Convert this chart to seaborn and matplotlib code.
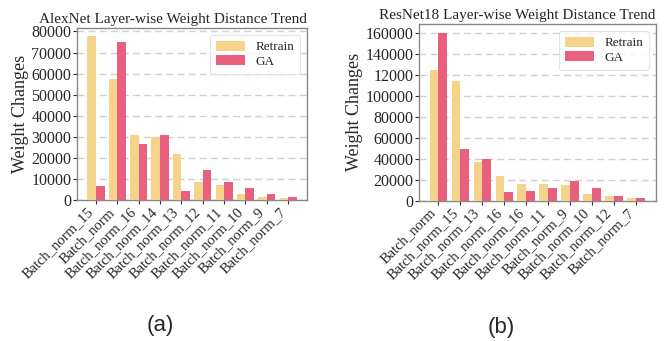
import matplotlib
matplotlib.use("Agg")
import matplotlib.pyplot as plt
import seaborn as sns
import pandas as pd

# ---- data ----
alex_labels = ["Batch_norm_15", "Batch_norm", "Batch_norm_16", "Batch_norm_14", "Batch_norm_13",
               "Batch_norm_12", "Batch_norm_11", "Batch_norm_10", "Batch_norm_9", "Batch_norm_7"]
alex_retrain = [77700, 57500, 30900, 30000, 21900, 8700, 7200, 2900, 1400, 1000]
alex_ga = [6800, 75100, 26600, 30900, 4300, 14300, 8600, 5700, 2900, 1400]

res_labels = ["Batch_norm", "Batch_norm_15", "Batch_norm_13", "Batch_norm_16", "Batch_norm_16",
              "Batch_norm_11", "Batch_norm_9", "Batch_norm_10", "Batch_norm_12", "Batch_norm_7"]
res_retrain = [124200, 113700, 36800, 23400, 15800, 15800, 14900, 6300, 4400, 2500]
res_ga = [160300, 49100, 39600, 8200, 9200, 12000, 18700, 12000, 4400, 2500]

alex_yticks = [0, 10000, 20000, 30000, 40000, 50000, 60000, 70000, 80000]
alex_yticklabels = ["0", "10000", "20000", "30000", "40000", "50000", "60000", "70000", "80000"]
res_yticks = [0, 20000, 40000, 60000, 80000, 100000, 120000, 140000, 160000]
res_yticklabels = ["0", "20000", "40000", "60000", "80000", "100000", "12000", "140000", "160000"]

series_names = ["Retrain", "GA"]
colors = {"Retrain": "#F6D38B", "GA": "#E9607F"}

sns.set_theme(style="ticks")
plt.rcParams["font.family"] = ["Liberation Serif", "DejaVu Serif"]

fig = plt.figure(figsize=(6.67, 3.41), dpi=100)
ax1 = fig.add_axes([0.1154, 0.4135, 0.345, 0.504])
ax2 = fig.add_axes([0.628, 0.412, 0.355, 0.517])


def draw(ax, labels, retrain, ga, yticks, yticklabels, title):
    n = len(labels)
    df = pd.DataFrame({
        "pos": list(range(n)) * 2,
        "value": list(retrain) + list(ga),
        "method": [series_names[0]] * n + [series_names[1]] * n,
    })
    sns.barplot(data=df, x="pos", y="value", hue="method", palette=colors,
                saturation=1, width=0.8, linewidth=0, ax=ax, zorder=3)
    ax.set_xlim(-0.89, n - 1 + 0.89)
    ymax = max(max(retrain), max(ga)) * 1.05
    ax.set_ylim(0, ymax)
    ax.set_xticks(range(n))
    ax.set_xticklabels(labels, rotation=45, ha="right", fontsize=10.5)
    ax.set_yticks(yticks)
    ax.set_yticklabels(yticklabels, fontsize=11.5)
    ax.set_xlabel("")
    ax.set_ylabel("Weight Changes", fontsize=13, labelpad=2)
    ax.set_title(title, fontsize=11, pad=4, loc="right")
    ax.yaxis.grid(True, linestyle=(0, (5, 3)), color="#d0d0d0", linewidth=1.0, zorder=0)
    ax.set_axisbelow(True)
    for s in ax.spines.values():
        s.set_color("#888888")
        s.set_linewidth(1.0)
    ax.tick_params(axis="both", length=3, width=0.8, color="#333333", pad=1)
    leg = ax.legend(loc="upper right", fontsize=9.5, frameon=True, fancybox=True,
                    handlelength=2.2, handleheight=0.8, borderpad=0.45, labelspacing=0.15,
                    borderaxespad=0.5)
    leg.get_frame().set_edgecolor("#dddddd")
    leg.get_frame().set_linewidth(0.8)
    leg.set_title(None)


draw(ax1, alex_labels, alex_retrain, alex_ga, alex_yticks, alex_yticklabels,
     "AlexNet Layer-wise Weight Distance Trend")
draw(ax2, res_labels, res_retrain, res_ga, res_yticks, res_yticklabels,
     "ResNet18 Layer-wise Weight Distance Trend")

fig.text(0.24, 0.045, "(a)", fontsize=16, ha="center", va="center", family=["Liberation Sans", "DejaVu Sans"])
fig.text(0.752, 0.04, "(b)", fontsize=16, ha="center", va="center", family=["Liberation Sans", "DejaVu Sans"])

fig.savefig("out.png", dpi=100)
